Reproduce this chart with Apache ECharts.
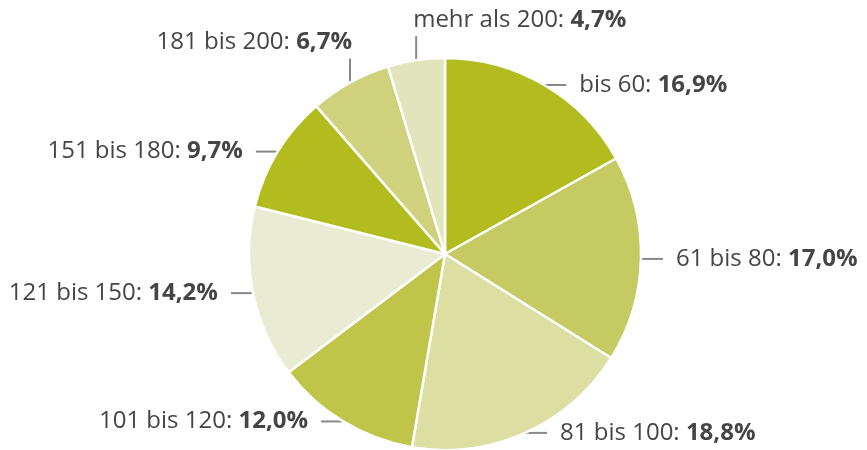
<!DOCTYPE html>
<html>
<head>
<meta charset="utf-8">
<script src="https://cdn.jsdelivr.net/npm/echarts@6/dist/echarts.min.js"></script>
<style>
  html, body { margin: 0; padding: 0; background: #fff; }
  #chart { width: 867px; height: 450px; }
</style>
</head>
<body>
<div id="chart"></div>
<script>
var categories = ['bis 60', '61 bis 80', '81 bis 100', '101 bis 120', '121 bis 150', '151 bis 180', '181 bis 200', 'mehr als 200'];
var values = [16.9, 17.0, 18.8, 12.0, 14.2, 9.7, 6.7, 4.7];
var colors = ['#b3bc1f', '#c6ca62', '#dcdea2', '#bfc548', '#e9ebd3', '#b3bc1f', '#cfd17d', '#e2e4bc'];
// labels of the thin slices at the top sit above the pie
var topLabels = ['181 bis 200', 'mehr als 200'];

var data = [];
for (var i = 0; i < categories.length; i++) {
	data.push({ name: categories[i], value: values[i], itemStyle: { color: colors[i] } });
}

var option = {
	animation: false,
	series: [{
		type: 'pie',
		center: [445, 254],
		radius: 196,
		startAngle: 90,
		clockwise: true,
		data: data,
		avoidLabelOverlap: false,
		itemStyle: { borderColor: '#fff', borderWidth: 2.5 },
		label: {
			show: true,
			position: 'outside',
			distanceToLabelLine: 13,
			formatter: function (p) {
				return '{a|' + p.name + ': }{b|' + p.value.toFixed(1).replace('.', ',') + '%}';
			},
			rich: {
				a: { fontFamily: 'Open Sans', fontSize: 24, color: '#454545' },
				b: { fontFamily: 'Open Sans', fontSize: 24, color: '#454545', fontWeight: 'bold' }
			}
		},
		labelLine: {
			show: true,
			length: 0,
			length2: 22,
			lineStyle: { color: '#888', width: 2 }
		},
		labelLayout: function (p) {
			var name = categories[p.dataIndex];
			var k = topLabels.indexOf(name);
			var pts = p.labelLinePoints;
			var x0 = pts[0][0], y0 = pts[0][1];
			if (k < 0) {
				// leader line starts a little inside the slice
				var dir = pts[2][0] > x0 ? -1 : 1;
				var xs = x0 + dir * 8;
				return { labelLinePoints: [[xs, y0], [xs, y0], [pts[2][0], pts[2][1]]] };
			}
			y0 = y0 + 6;
			var y1 = y0 - 30;
			return {
				x: x0 + (k == 0 ? 2 : -3),
				y: y1 - 4,
				align: k == 0 ? 'right' : 'left',
				verticalAlign: 'bottom',
				labelLinePoints: [[x0, y0], [x0, y0], [x0, y1]]
			};
		}
	}]
};
var myChart = echarts.init(document.getElementById('chart'));
myChart.setOption(option);
</script>
</body>
</html>
